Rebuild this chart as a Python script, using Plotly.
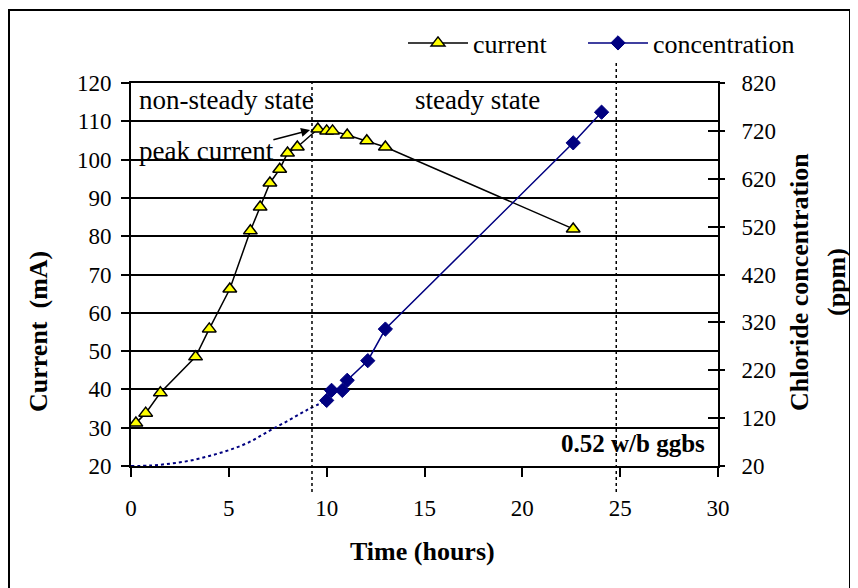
import plotly.graph_objects as go

# ---------------- data ----------------
time_current = [0.25, 0.75, 1.5, 3.3, 4.0, 5.05, 6.1, 6.6, 7.1, 7.6, 8.0, 8.5, 9.55, 10.0, 10.3, 11.05, 12.05, 13.0, 22.6]
current_mA = [31.2, 33.8, 39.1, 48.5, 55.8, 66.2, 81.4, 87.6, 93.9, 97.5, 101.7, 103.3, 108.0, 107.5, 107.5, 106.4, 104.9, 103.3, 81.9]

time_conc = [10.0, 10.25, 10.8, 11.05, 12.1, 13.0, 22.6, 24.05]
conc_ppm = [157, 178, 178, 199, 240, 306, 695, 759]

# dotted early part of the concentration curve
time_conc_early = [0, 1, 2, 3, 4, 5, 6, 7, 8, 9, 10.0]
conc_early_ppm = [20, 21, 25, 31, 41, 53, 69, 92, 114, 137, 157]

x_ticks = [0, 5, 10, 15, 20, 25, 30]
y_left_ticks = [20, 30, 40, 50, 60, 70, 80, 90, 100, 110, 120]
y_right_ticks = [20, 120, 220, 320, 420, 520, 620, 720, 820]

state_boundaries = [9.25, 24.8]

# ---------------- layout geometry (screen pixels) ----------------
OFF = 8                      # page body margin
W, H = 858 - OFF, 588 - OFF  # figure size
PL, PR, PT, PB = 131, 718, 83, 466   # plot area on screen
L, T = PL - OFF, PT - OFF
R, B = W - (PR - OFF), H - (PB - OFF)
PW, PH = PR - PL, PB - PT
FONT = "Liberation Serif"


def xp(px):
    return (px - PL) / PW


def yp(py):
    return (PB - py) / PH


fig = go.Figure()

fig.add_trace(go.Scatter(
    x=time_conc_early, y=conc_early_ppm, mode="lines", yaxis="y2",
    line=dict(color="#000080", width=2, dash="dot", shape="spline"),
    showlegend=False, hoverinfo="skip"))

fig.add_trace(go.Scatter(
    x=time_current, y=current_mA, mode="lines+markers", name="current",
    line=dict(color="black", width=1.5),
    marker=dict(symbol="triangle-up", size=12, color="#FFFF00",
                line=dict(color="black", width=1.5)),
    legend="legend"))

fig.add_trace(go.Scatter(
    x=time_conc, y=conc_ppm, mode="lines+markers", name="concentration",
    yaxis="y2",
    line=dict(color="#000080", width=1.5),
    marker=dict(symbol="diamond", size=11, color="#000080",
                line=dict(color="#000080", width=1)),
    legend="legend2"))

# helper trace so the inner-tick axis is drawn
fig.add_trace(go.Scatter(x=[x_ticks[0]], y=[y_right_ticks[0]], yaxis="y3",
                         mode="markers", marker=dict(opacity=0),
                         showlegend=False, hoverinfo="skip"))

shapes = []
tops = [1.0, yp(60)]
for xv, top in zip(state_boundaries, tops):
    fx = (xv - x_ticks[0]) / (x_ticks[-1] - x_ticks[0])
    shapes.append(dict(type="line", xref="x domain", yref="paper",
                       x0=fx, x1=fx, y0=yp(492), y1=top,
                       line=dict(color="black", width=1.5, dash="dot")))
# outer chart border
shapes.append(dict(type="rect", xref="paper", yref="paper",
                   x0=xp(9), x1=xp(850), y0=yp(600), y1=yp(10),
                   line=dict(color="black", width=2)))


def txt(size, bold=False):
    return dict(family=FONT, size=size, color="black")


annotations = [
    dict(x=0.3, y=115.6, xref="x", yref="y", text="non-steady state",
         showarrow=False, xanchor="left", yanchor="middle", font=txt(27)),
    dict(x=17.7, y=115.6, xref="x", yref="y", text="steady state",
         showarrow=False, xanchor="center", yanchor="middle", font=txt(27)),
    dict(x=3.85, y=102.3, xref="x", yref="y", text="peak current",
         showarrow=False, xanchor="center", yanchor="middle", font=txt(27)),
    dict(x=9.15, y=107.7, ax=7.2, ay=105.1, xref="x", yref="y", axref="x", ayref="y",
         text="", showarrow=True, arrowhead=2, arrowsize=1.2, arrowwidth=1.5,
         arrowcolor="black"),
    dict(x=29.45, y=26.0, xref="x", yref="y", text="<b>0.52 w/b ggbs</b>",
         showarrow=False, xanchor="right", yanchor="middle", font=txt(25)),
    dict(x=xp(422), y=yp(551), xref="paper", yref="paper", text="<b>Time (hours)</b>",
         showarrow=False, xanchor="center", yanchor="middle", font=txt(26)),
    dict(x=xp(38), y=yp(332), xref="paper", yref="paper", text="<b>Current  (mA)</b>",
         showarrow=False, textangle=-90, xanchor="center", yanchor="middle", font=txt(26)),
    dict(x=xp(799), y=yp(282), xref="paper", yref="paper",
         text="<b>Chloride concentration</b>",
         showarrow=False, textangle=-90, xanchor="center", yanchor="middle", font=txt(26)),
    dict(x=xp(836), y=yp(282), xref="paper", yref="paper",
         text="<b>(ppm)</b>",
         showarrow=False, textangle=-90, xanchor="center", yanchor="middle", font=txt(26)),
]

fig.update_layout(
    width=W, height=H,
    margin=dict(l=L, r=R, t=T, b=B, pad=0),
    paper_bgcolor="white", plot_bgcolor="white",
    font=dict(family=FONT, size=23, color="black"),
    xaxis=dict(range=[x_ticks[0], x_ticks[-1]], tickvals=x_ticks, showgrid=False,
               zeroline=False, showline=True, linecolor="black", linewidth=2,
               mirror=True, ticks="outside", ticklen=9, tickwidth=1.5,
               tickcolor="black", ticklabelstandoff=11,
               tickfont=dict(family=FONT, size=23)),
    yaxis=dict(range=[y_left_ticks[0], y_left_ticks[-1]], tickvals=y_left_ticks,
               showgrid=True, gridcolor="black", gridwidth=1.5, zeroline=False,
               showline=True, linecolor="black", linewidth=2, ticks="outside",
               ticklen=8, tickwidth=1.5, tickcolor="black", ticklabelstandoff=5,
               tickfont=dict(family=FONT, size=23)),
    yaxis2=dict(range=[y_right_ticks[0], y_right_ticks[-1]], tickvals=y_right_ticks,
                overlaying="y", side="right", showgrid=False, zeroline=False,
                showline=True, linecolor="black", linewidth=2, ticks="outside",
                ticklen=5, tickwidth=1.5, tickcolor="black", ticklabelstandoff=12,
                tickfont=dict(family=FONT, size=23)),
    yaxis3=dict(range=[y_right_ticks[0], y_right_ticks[-1]], tickvals=y_right_ticks,
                overlaying="y", side="right", showgrid=False, zeroline=False,
                showline=False, ticks="inside", ticklen=10, tickwidth=1.5,
                tickcolor="black", showticklabels=False),
    legend=dict(orientation="h", x=xp(403), y=yp(43), xanchor="left", yanchor="middle",
                itemwidth=60, bgcolor="rgba(0,0,0,0)", font=dict(family=FONT, size=26)),
    legend2=dict(orientation="h", x=xp(583), y=yp(43), xanchor="left", yanchor="middle",
                 itemwidth=60, bgcolor="rgba(0,0,0,0)", font=dict(family=FONT, size=26)),
    shapes=shapes,
    annotations=annotations,
    showlegend=True,
)

fig.write_html("out.html")
